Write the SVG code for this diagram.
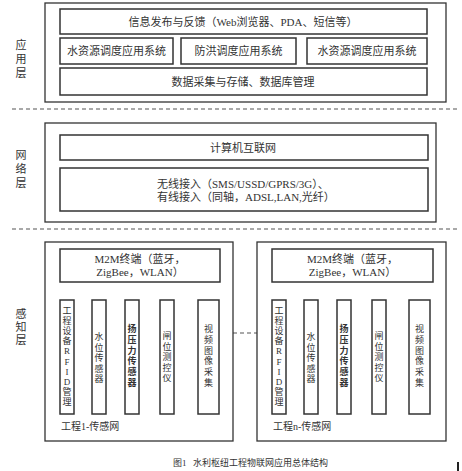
<svg xmlns="http://www.w3.org/2000/svg" width="462" height="471" viewBox="0 0 462 471">
<style>
text{font-family:"Liberation Serif","Noto Sans CJK SC",serif;fill:#333}
.t{font-size:11px}
.c{text-anchor:middle}
.s{font-size:10px}
.v{font-size:9px;text-anchor:middle}
.outer{fill:#fff;stroke:#333;stroke-width:1.3}
.box{fill:#fff;stroke:#333;stroke-width:1.5}
.dash{stroke:#555;stroke-width:1.2;stroke-dasharray:4 3;fill:none}
</style>
<rect width="462" height="471" fill="#fff"/>

<g id="layer-labels" class="t c">
<text x="21" y="49">应</text><text x="21" y="63">用</text><text x="21" y="77">层</text>
<text x="21" y="159">网</text><text x="21" y="173">络</text><text x="21" y="187">层</text>
<text x="21" y="318">感</text><text x="21" y="331">知</text><text x="21" y="344">层</text>
</g>

<g id="app-layer">
<rect class="outer" x="45" y="3" width="401" height="99"/>
</g>
<g id="info-release"><rect class="box" x="60" y="9" width="367" height="25"/><text class="t c" x="243" y="25.5">信息发布与反馈（Web浏览器、PDA、短信等）</text></g>
<g id="water-dispatch-1"><rect class="box" x="60" y="38" width="113" height="26"/><text class="t c" x="116.5" y="55">水资源调度应用系统</text></g>
<g id="flood-dispatch"><rect class="box" x="181" y="38" width="115" height="26"/><text class="t c" x="238.5" y="55">防洪调度应用系统</text></g>
<g id="water-dispatch-2"><rect class="box" x="307" y="38" width="120" height="26"/><text class="t c" x="367" y="55">水资源调度应用系统</text></g>
<g id="data-storage"><rect class="box" x="60" y="68" width="367" height="27"/><text class="t c" x="243" y="85.5">数据采集与存储、数据库管理</text></g>

<g id="net-layer"><rect class="outer" x="45" y="123" width="391" height="99"/></g>
<g id="internet"><rect class="box" x="60" y="135" width="368" height="25"/><text class="t c" x="243" y="151.5">计算机互联网</text></g>
<g id="access"><rect class="box" x="60" y="168" width="368" height="43"/><text class="t" x="157" y="188">无线接入（SMS/USSD/GPRS/3G）、</text><text class="t" x="157" y="201">有线接入（同轴，ADSL,LAN,光纤）</text></g>

<g id="connectors">
<line class="dash" x1="12" y1="109" x2="460" y2="109"/>
<line class="dash" x1="12" y1="229" x2="460" y2="229"/>
<line class="dash" x1="233" y1="333" x2="257" y2="333"/>
</g>

<g id="sensor-net-1">
<rect class="outer" x="45" y="242" width="188" height="199"/>
<text class="s" x="61" y="430">工程1-传感网</text>
</g>
<g id="m2m-1"><rect class="box" x="60" y="249" width="160" height="33"/><text class="t c" x="140" y="263">M2M终端（蓝牙，</text><text class="t c" x="140" y="276">ZigBee，WLAN）</text></g>
<g id="rfid-1"><rect class="box" x="60" y="300" width="14" height="114"/>
<text class="v"><tspan x="67" y="314">工</tspan><tspan x="67" dy="10.1">程</tspan><tspan x="67" dy="10.1">设</tspan><tspan x="67" dy="10.1">备</tspan><tspan x="67" dy="10.1">R</tspan><tspan x="67" dy="10.1">F</tspan><tspan x="67" dy="10.1">I</tspan><tspan x="67" dy="10.1">D</tspan><tspan x="67" dy="10.1">管</tspan><tspan x="67" dy="10.1">理</tspan></text></g>
<g id="level-1"><rect class="box" x="92" y="300" width="14" height="114"/>
<text class="v"><tspan x="99" y="340">水</tspan><tspan x="99" dy="10.5">位</tspan><tspan x="99" dy="10.5">传</tspan><tspan x="99" dy="10.5">感</tspan><tspan x="99" dy="10.5">器</tspan></text></g>
<g id="uplift-1"><rect class="box" x="125" y="300" width="14" height="114"/>
<text class="v" font-weight="bold"><tspan x="132" y="332">扬</tspan><tspan x="132" dy="10.8">压</tspan><tspan x="132" dy="10.8">力</tspan><tspan x="132" dy="10.8">传</tspan><tspan x="132" dy="10.8">感</tspan><tspan x="132" dy="10.8">器</tspan></text></g>
<g id="gate-1"><rect class="box" x="160" y="300" width="14" height="114"/>
<text class="v"><tspan x="167" y="339">闸</tspan><tspan x="167" dy="10.5">位</tspan><tspan x="167" dy="10.5">测</tspan><tspan x="167" dy="10.5">控</tspan><tspan x="167" dy="10.5">仪</tspan></text></g>
<g id="video-1"><rect class="box" x="198" y="300" width="21" height="114"/>
<text class="v"><tspan x="208.5" y="332">视</tspan><tspan x="208.5" dy="10.8">频</tspan><tspan x="208.5" dy="10.8">图</tspan><tspan x="208.5" dy="10.8">像</tspan><tspan x="208.5" dy="10.8">采</tspan><tspan x="208.5" dy="10.8">集</tspan></text></g>

<g id="sensor-net-n">
<rect class="outer" x="257" y="242" width="189" height="199"/>
<text class="s" x="273" y="430">工程n-传感网</text>
</g>
<g id="m2m-n"><rect class="box" x="272" y="249" width="161" height="33"/><text class="t c" x="352.5" y="263">M2M终端（蓝牙，</text><text class="t c" x="352.5" y="276">ZigBee，WLAN）</text></g>
<g id="rfid-n"><rect class="box" x="272" y="300" width="14" height="114"/>
<text class="v"><tspan x="279" y="314">工</tspan><tspan x="279" dy="10.1">程</tspan><tspan x="279" dy="10.1">设</tspan><tspan x="279" dy="10.1">备</tspan><tspan x="279" dy="10.1">R</tspan><tspan x="279" dy="10.1">F</tspan><tspan x="279" dy="10.1">I</tspan><tspan x="279" dy="10.1">D</tspan><tspan x="279" dy="10.1">管</tspan><tspan x="279" dy="10.1">理</tspan></text></g>
<g id="level-n"><rect class="box" x="304" y="300" width="14" height="114"/>
<text class="v"><tspan x="311" y="340">水</tspan><tspan x="311" dy="10.5">位</tspan><tspan x="311" dy="10.5">传</tspan><tspan x="311" dy="10.5">感</tspan><tspan x="311" dy="10.5">器</tspan></text></g>
<g id="uplift-n"><rect class="box" x="337" y="300" width="14" height="114"/>
<text class="v" font-weight="bold"><tspan x="344" y="332">扬</tspan><tspan x="344" dy="10.8">压</tspan><tspan x="344" dy="10.8">力</tspan><tspan x="344" dy="10.8">传</tspan><tspan x="344" dy="10.8">感</tspan><tspan x="344" dy="10.8">器</tspan></text></g>
<g id="gate-n"><rect class="box" x="372" y="300" width="14" height="114"/>
<text class="v"><tspan x="379" y="339">闸</tspan><tspan x="379" dy="10.5">位</tspan><tspan x="379" dy="10.5">测</tspan><tspan x="379" dy="10.5">控</tspan><tspan x="379" dy="10.5">仪</tspan></text></g>
<g id="video-n"><rect class="box" x="409" y="300" width="21" height="114"/>
<text class="v"><tspan x="419.5" y="332">视</tspan><tspan x="419.5" dy="10.8">频</tspan><tspan x="419.5" dy="10.8">图</tspan><tspan x="419.5" dy="10.8">像</tspan><tspan x="419.5" dy="10.8">采</tspan><tspan x="419.5" dy="10.8">集</tspan></text></g>

<g id="caption"><text x="173" y="466" font-size="9">图1</text><text x="193" y="466" font-size="9">水利枢纽工程物联网应用总体结构</text></g>
<rect x="457" y="462" width="2" height="9" fill="#222"/>
</svg>
